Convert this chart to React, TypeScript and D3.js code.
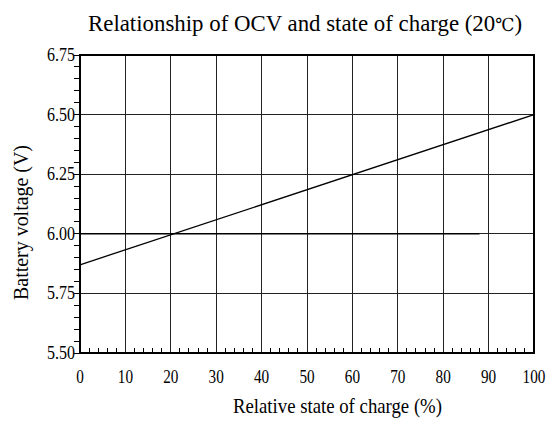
import React, { useEffect, useRef } from "react";
import * as d3 from "d3";

// chart data
const socPoints = [0, 100];
const ocvValues = [5.87, 6.5];
const flatLineSoc = [0, 88];
const flatLineOcv = [6.0, 6.0];
const xTicks = [0, 10, 20, 30, 40, 50, 60, 70, 80, 90, 100];
const yTicks = [5.5, 5.75, 6.0, 6.25, 6.5, 6.75];

const titleMain = "Relationship of OCV and state of charge (20";
const titleUnit = "\u2103";
const titleEnd = ")";
const xLabelText = "Relative state of charge (%)";
const yLabelText = "Battery voltage (V)";

const App = () => {
  const svgRef = useRef(null);
  const width = 554;
  const height = 426;
  const margin = { top: 55, right: 20, bottom: 73, left: 80 };
  const font = "'Liberation Serif', 'Times New Roman', Times, 'DejaVu Serif', serif";

  useEffect(() => {
    const svg = d3.select(svgRef.current);
    svg.selectAll("*").remove();

    const x = d3
      .scaleLinear()
      .domain([0, 100])
      .range([margin.left, width - margin.right]);

    const y = d3
      .scaleLinear()
      .domain([5.5, 6.75])
      .range([height - margin.bottom, margin.top]);

    const x0 = x(0);
    const x1 = x(100);
    const y0 = y(5.5);
    const y1 = y(6.75);

    // gridlines
    const grid = svg.append("g").attr("stroke", "#222").attr("stroke-width", 1).attr("shape-rendering", "crispEdges");
    grid
      .selectAll("line.v")
      .data(xTicks)
      .enter()
      .append("line")
      .attr("x1", (d) => x(d))
      .attr("x2", (d) => x(d))
      .attr("y1", y0)
      .attr("y2", y1);
    grid
      .selectAll("line.h")
      .data(yTicks)
      .enter()
      .append("line")
      .attr("x1", x0)
      .attr("x2", x1)
      .attr("y1", (d) => y(d))
      .attr("y2", (d) => y(d));

    // minor ticks on y axis (outside, left)
    const yMinor = d3.range(0, 26).map((i) => 5.5 + i * 0.05);
    svg
      .append("g")
      .attr("stroke", "#000")
      .attr("shape-rendering", "crispEdges")
      .selectAll("line")
      .data(yMinor)
      .enter()
      .append("line")
      .attr("x1", x0 - 6)
      .attr("x2", x0)
      .attr("y1", (d) => y(d))
      .attr("y2", (d) => y(d));

    // minor ticks on x axis (inside, up)
    const xMinor = d3.range(0, 51).map((i) => i * 2).filter((d) => d % 10 !== 0);
    svg
      .append("g")
      .attr("stroke", "#000")
      .attr("shape-rendering", "crispEdges")
      .selectAll("line")
      .data(xMinor)
      .enter()
      .append("line")
      .attr("x1", (d) => x(d))
      .attr("x2", (d) => x(d))
      .attr("y1", y0)
      .attr("y2", y0 - 5);

    // frame
    svg
      .append("rect")
      .attr("x", x0)
      .attr("y", y1)
      .attr("width", x1 - x0)
      .attr("height", y0 - y1)
      .attr("fill", "none")
      .attr("stroke", "#000")
      .attr("stroke-width", 1.3)
      .attr("shape-rendering", "crispEdges");

    const line = d3
      .line()
      .x((d) => x(d[0]))
      .y((d) => y(d[1]));

    svg
      .append("path")
      .datum(flatLineSoc.map((s, i) => [s, flatLineOcv[i]]))
      .attr("d", line)
      .attr("fill", "none")
      .attr("stroke", "#000")
      .attr("stroke-width", 1.6);

    svg
      .append("path")
      .datum(socPoints.map((s, i) => [s, ocvValues[i]]))
      .attr("d", line)
      .attr("fill", "none")
      .attr("stroke", "#000")
      .attr("stroke-width", 1.3);

    // tick labels
    svg
      .append("g")
      .selectAll("text")
      .data(yTicks)
      .enter()
      .append("text")
      .attr("x", x0 - 5)
      .attr("y", (d) => y(d) + 6)
      .attr("text-anchor", "end")
      .style("font-family", font)
      .attr("font-size", 19)
      .attr("textLength", 28)
      .attr("lengthAdjust", "spacingAndGlyphs")
      .text((d) => d.toFixed(2));

    svg
      .append("g")
      .selectAll("text")
      .data(xTicks)
      .enter()
      .append("text")
      .attr("x", (d) => x(d))
      .attr("y", y0 + 30)
      .attr("text-anchor", "middle")
      .style("font-family", font)
      .attr("font-size", 19)
      .attr("textLength", (d) => String(d).length * 7.6)
      .attr("lengthAdjust", "spacingAndGlyphs")
      .text((d) => d);

    // title, with a smaller degree sign
    const title = svg
      .append("text")
      .attr("x", 88)
      .attr("y", 31)
      .style("font-family", font)
      .attr("font-size", 24)
      .attr("textLength", 434)
      .attr("lengthAdjust", "spacingAndGlyphs");
    title.append("tspan").text(titleMain);
    title.append("tspan").attr("font-size", 18).text(titleUnit);
    title.append("tspan").text(titleEnd);

    svg
      .append("text")
      .attr("x", 233)
      .attr("y", 413)
      .style("font-family", font)
      .attr("font-size", 21)
      .attr("textLength", 209)
      .attr("lengthAdjust", "spacingAndGlyphs")
      .text(xLabelText);

    svg
      .append("text")
      .attr("transform", "translate(28,300) rotate(-90)")
      .attr("x", 0)
      .attr("y", 0)
      .style("font-family", font)
      .attr("font-size", 21)
      .attr("textLength", 155)
      .attr("lengthAdjust", "spacingAndGlyphs")
      .text(yLabelText);
  }, []);

  return (
    <svg
      ref={svgRef}
      width={width}
      height={height}
      style={{ position: "absolute", left: 0, top: 0, background: "#fff" }}
    ></svg>
  );
};

export default App;
